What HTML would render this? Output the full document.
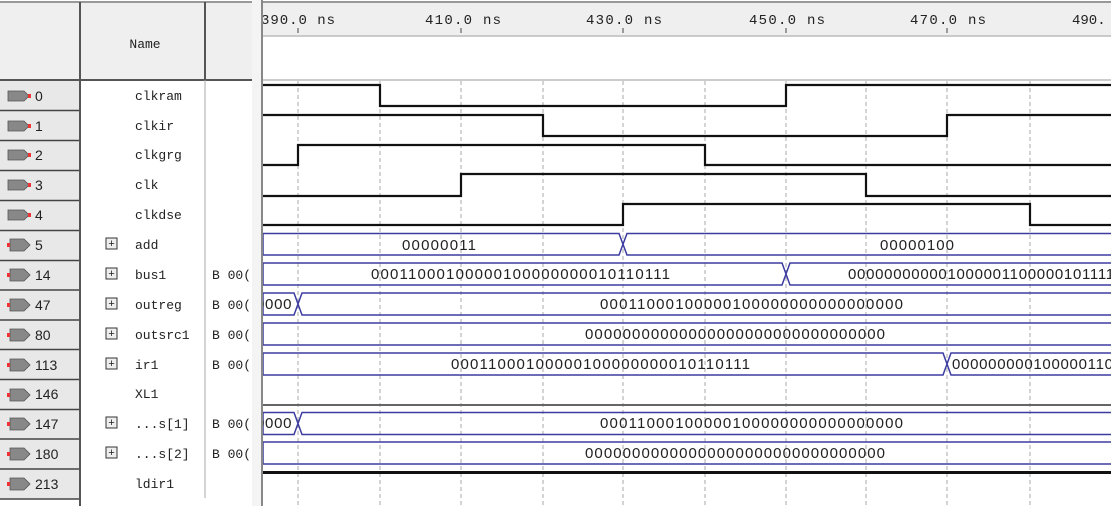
<!DOCTYPE html>
<html><head><meta charset="utf-8"><style>
html,body{margin:0;padding:0;background:#fff;}
svg{display:block;}
.mono{font-family:"Liberation Mono",monospace;}
.sans{font-family:"Liberation Sans",sans-serif;}
</style></head><body>
<svg width="1111" height="506" viewBox="0 0 1111 506" xmlns="http://www.w3.org/2000/svg">
<defs><clipPath id="wv"><rect x="263" y="0" width="848" height="506"/></clipPath></defs>
<rect width="1111" height="506" fill="#fff"/>
<rect x="0" y="2" width="252" height="78" fill="#efefef"/>
<line x1="0" y1="2" x2="252" y2="2" stroke="#999" stroke-width="2"/>
<line x1="0" y1="80" x2="252" y2="80" stroke="#555" stroke-width="2"/>
<line x1="80" y1="2" x2="80" y2="506" stroke="#555" stroke-width="2"/>
<line x1="205" y1="2" x2="205" y2="80" stroke="#555" stroke-width="2"/>
<line x1="205" y1="80" x2="205" y2="498" stroke="#aaa" stroke-width="1"/>
<text x="145" y="48" class="mono" font-size="13" text-anchor="middle" fill="#222">Name</text>
<rect x="252" y="0" width="9" height="506" fill="#f4f4f4"/>
<line x1="262" y1="0" x2="262" y2="506" stroke="#888" stroke-width="2"/>
<rect x="263" y="2" width="848" height="34" fill="#efefef"/>
<line x1="263" y1="2" x2="1111" y2="2" stroke="#999" stroke-width="2"/>
<line x1="263" y1="36" x2="1111" y2="36" stroke="#bbb" stroke-width="1.5"/>
<line x1="263" y1="80" x2="1111" y2="80" stroke="#bbb" stroke-width="1.5"/>
<g clip-path="url(#wv)" class="mono" font-size="14" fill="#222">
<text x="261" y="24" textLength="74">390.0 ns</text>
<text x="425" y="24" textLength="76">410.0 ns</text>
<text x="586" y="24" textLength="76">430.0 ns</text>
<text x="749" y="24" textLength="76">450.0 ns</text>
<text x="910" y="24" textLength="76">470.0 ns</text>
<text x="1072" y="24">490.</text>
</g>
<g stroke="#444" stroke-width="1">
<line x1="298" y1="28" x2="298" y2="33"/><line x1="461" y1="28" x2="461" y2="33"/><line x1="623" y1="28" x2="623" y2="33"/><line x1="786" y1="28" x2="786" y2="33"/><line x1="947" y1="28" x2="947" y2="33"/>
</g>
<g stroke="#aaa" stroke-width="1" stroke-dasharray="4,3">
<line x1="298" y1="81" x2="298" y2="506"/><line x1="380" y1="81" x2="380" y2="506"/><line x1="461" y1="81" x2="461" y2="506"/><line x1="543" y1="81" x2="543" y2="506"/><line x1="623" y1="81" x2="623" y2="506"/><line x1="705" y1="81" x2="705" y2="506"/><line x1="786" y1="81" x2="786" y2="506"/><line x1="866" y1="81" x2="866" y2="506"/><line x1="947" y1="81" x2="947" y2="506"/><line x1="1030" y1="81" x2="1030" y2="506"/>
</g>
<g>
<rect x="0" y="81" width="79" height="418" fill="#e8e8e8"/>
<g stroke="#444" stroke-width="1.5">
<line x1="0" y1="110.5" x2="79" y2="110.5"/><line x1="0" y1="140.5" x2="79" y2="140.5"/><line x1="0" y1="170.5" x2="79" y2="170.5"/><line x1="0" y1="200.5" x2="79" y2="200.5"/><line x1="0" y1="230.5" x2="79" y2="230.5"/><line x1="0" y1="260.5" x2="79" y2="260.5"/><line x1="0" y1="290" x2="79" y2="290"/><line x1="0" y1="320" x2="79" y2="320"/><line x1="0" y1="349.5" x2="79" y2="349.5"/><line x1="0" y1="379.5" x2="79" y2="379.5"/><line x1="0" y1="409.5" x2="79" y2="409.5"/><line x1="0" y1="439" x2="79" y2="439"/><line x1="0" y1="469" x2="79" y2="469"/><line x1="0" y1="499" x2="79" y2="499"/>
</g>
</g>
<g fill="#888" stroke="#555" stroke-width="0.8">
<polygon points="8,91 24,91 29,96 24,101 8,101"/><polygon points="8,121 24,121 29,126 24,131 8,131"/><polygon points="8,150 24,150 29,155 24,160 8,160"/><polygon points="8,180 24,180 29,185 24,190 8,190"/><polygon points="8,210 24,210 29,215 24,220 8,220"/>
<polygon points="10,239 24,239 30,245 24,251 10,251"/><polygon points="10,269 24,269 30,275 24,281 10,281"/><polygon points="10,299 24,299 30,305 24,311 10,311"/><polygon points="10,329 24,329 30,335 24,341 10,341"/><polygon points="10,359 24,359 30,365 24,371 10,371"/><polygon points="10,389 24,389 30,395 24,401 10,401"/><polygon points="10,418 24,418 30,424 24,430 10,430"/><polygon points="10,448 24,448 30,454 24,460 10,460"/><polygon points="10,478 24,478 30,484 24,490 10,490"/>
</g>
<g fill="#e33">
<rect x="28" y="94" width="3" height="4"/><rect x="28" y="124" width="3" height="4"/><rect x="28" y="153" width="3" height="4"/><rect x="28" y="183" width="3" height="4"/><rect x="28" y="213" width="3" height="4"/>
<rect x="7" y="243" width="3" height="4"/><rect x="7" y="273" width="3" height="4"/><rect x="7" y="303" width="3" height="4"/><rect x="7" y="333" width="3" height="4"/><rect x="7" y="363" width="3" height="4"/><rect x="7" y="393" width="3" height="4"/><rect x="7" y="422" width="3" height="4"/><rect x="7" y="452" width="3" height="4"/><rect x="7" y="482" width="3" height="4"/>
</g>
<g class="sans" font-size="14" fill="#222">
<text x="35" y="101">0</text><text x="35" y="131">1</text><text x="35" y="160">2</text><text x="35" y="190">3</text><text x="35" y="220">4</text><text x="35" y="250">5</text><text x="35" y="280">14</text><text x="35" y="310">47</text><text x="35" y="340">80</text><text x="35" y="370">113</text><text x="35" y="399">146</text><text x="35" y="429">147</text><text x="35" y="459">180</text><text x="35" y="489">213</text>
</g>
<g fill="#eee" stroke="#333" stroke-width="1">
<rect x="106" y="238" width="11" height="11"/><rect x="106" y="268" width="11" height="11"/><rect x="106" y="298" width="11" height="11"/><rect x="106" y="328" width="11" height="11"/><rect x="106" y="358" width="11" height="11"/><rect x="106" y="417" width="11" height="11"/><rect x="106" y="447" width="11" height="11"/>
</g>
<g class="mono" font-size="11" fill="#222" text-anchor="middle">
<text x="111.5" y="247">+</text><text x="111.5" y="277">+</text><text x="111.5" y="307">+</text><text x="111.5" y="337">+</text><text x="111.5" y="367">+</text><text x="111.5" y="426">+</text><text x="111.5" y="456">+</text>
</g>
<g class="mono" font-size="13" fill="#222">
<text x="135" y="100">clkram</text><text x="135" y="130">clkir</text><text x="135" y="159">clkgrg</text><text x="135" y="189">clk</text><text x="135" y="219">clkdse</text><text x="135" y="249">add</text><text x="135" y="279">bus1</text><text x="135" y="309">outreg</text><text x="135" y="339">outsrc1</text><text x="135" y="369">ir1</text><text x="135" y="398">XL1</text><text x="135" y="428">...s[1]</text><text x="135" y="458">...s[2]</text><text x="135" y="488">ldir1</text>
<text x="212" y="279">B 00(</text><text x="212" y="309">B 00(</text><text x="212" y="339">B 00(</text><text x="212" y="369">B 00(</text><text x="212" y="428">B 00(</text><text x="212" y="458">B 00(</text>
</g>
<g fill="none" stroke="#111" stroke-width="2.2" clip-path="url(#wv)">
<path d="M263,85 H380 V106 H786 V85 H1111"/>
<path d="M263,115 H543 V136 H947 V115 H1111"/>
<path d="M263,165 H298 V145 H705 V165 H1111"/>
<path d="M263,196 H461 V174 H866 V196 H1111"/>
<path d="M263,225 H623 V204 H1030 V225 H1111"/>
</g>
<g fill="none" stroke="#3c3ca0" stroke-width="1.5" clip-path="url(#wv)">
<path d="M263,233.5 V255 M263,233.5 H619 L627,255 H1111 M263,255 H619 L627,233.5 H1111"/>
<path d="M263,263 V285 M263,263 H782 L790,285 H1111 M263,285 H782 L790,263 H1111"/>
<path d="M263,293 V315 M263,293 H294 L302,315 H1111 M263,315 H294 L302,293 H1111"/>
<path d="M263,323 V345 M263,323 H1111 M263,345 H1111"/>
<path d="M263,353 V375 M263,353 H943 L951,375 H1111 M263,375 H943 L951,353 H1111"/>
<path d="M263,412.5 V434.5 M263,412.5 H294 L302,434.5 H1111 M263,434.5 H294 L302,412.5 H1111"/>
<path d="M263,442 V464 M263,442 H1111 M263,464 H1111"/>
</g>
<line x1="263" y1="405" x2="1111" y2="405" stroke="#666" stroke-width="2"/>
<line x1="263" y1="472.5" x2="1111" y2="472.5" stroke="#111" stroke-width="3"/>
<g class="sans" font-size="15" fill="#222" clip-path="url(#wv)">
<text x="402" y="250" textLength="74">00000011</text>
<text x="880" y="250" textLength="74">00000100</text>
<text x="371" y="279" textLength="299">00011000100000100000000010110111</text>
<text x="848" y="279" letter-spacing="0.7">00000000000100000110000010111111</text>
<text x="600" y="309" textLength="303">00011000100000100000000000000000</text>
<text x="256" y="309" letter-spacing="0.7">0000</text>
<text x="585" y="339" textLength="300">00000000000000000000000000000000</text>
<text x="451" y="369" textLength="299">00011000100000100000000010110111</text>
<text x="952" y="369" letter-spacing="0.7">00000000010000011000001011</text>
<text x="600" y="428" textLength="303">00011000100000100000000000000000</text>
<text x="256" y="428" letter-spacing="0.7">0000</text>
<text x="585" y="458" textLength="300">00000000000000000000000000000000</text>
</g>
</svg>
</body></html>
